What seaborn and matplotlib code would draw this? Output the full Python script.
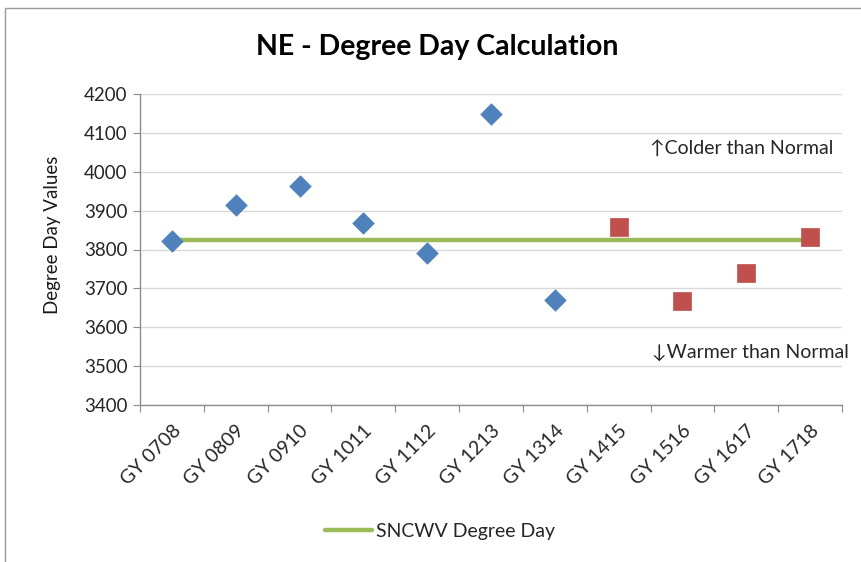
# NE degree day chart: actual vs forecast seasons against the normal line
import numpy as np
import pandas as pd
import matplotlib
matplotlib.use("Agg")
import matplotlib.pyplot as plt
import seaborn as sns

# data
seasons = ["GY 0708", "GY 0809", "GY 0910", "GY 1011", "GY 1112", "GY 1213",
           "GY 1314", "GY 1415", "GY 1516", "GY 1617", "GY 1718"]
degree_days = [3822, 3915, 3964, 3867, 3792, 4148, 3669, 3859, 3668, 3739, 3833]
series = ["Actual"] * 7 + ["Forecast"] * 4
normal_dd = [3824] * 11
y_ticks = [3400, 3500, 3600, 3700, 3800, 3900, 4000, 4100, 4200]

df = pd.DataFrame({"season": seasons, "dd": degree_days, "series": series,
                   "normal": normal_dd})
df["pos"] = np.arange(len(df))

sns.set_style("white")
plt.rcParams["font.family"] = ["Lato", "DejaVu Sans"]

fig = plt.figure(figsize=(8.62, 5.62), dpi=100)
ax = fig.add_axes([140 / 862, 1 - 405 / 562, (842 - 140) / 862, (405 - 94) / 562])

# outer chart border (right and bottom edges fall outside the picture)
fig.patches.append(plt.Rectangle((5 / 862, -0.1), 1.2, 1.1 - 8 / 562, transform=fig.transFigure,
                                 fill=False, edgecolor="#9a9a9a", linewidth=1.0))

sns.lineplot(data=df, x="pos", y="normal", color="#9BBB59", linewidth=3.2,
             label="SNCWV Degree Day", ax=ax, zorder=2)
act = df[df["series"] == "Actual"]
fc = df[df["series"] == "Forecast"]
sns.scatterplot(data=act, x="pos", y="dd", marker="D", s=120, color="#4F81BD",
                edgecolor="#4F81BD", linewidth=0.5, ax=ax, zorder=3, legend=False)
sns.scatterplot(data=fc, x="pos", y="dd", marker="s", s=185, color="#C0504D",
                edgecolor="#C0504D", linewidth=0.5, ax=ax, zorder=3, legend=False)

ax.set_xlim(-0.5, len(seasons) - 0.5)
ax.set_ylim(3400, 4200)
ax.set_yticks(y_ticks)
ax.yaxis.grid(True, color="#d9d9d9", linewidth=1.0)
ax.set_axisbelow(True)

# tick marks on category boundaries, labels at centres
ax.set_xticks(np.arange(-0.5, len(seasons)), minor=False)
ax.set_xticklabels([])
ax.set_xticks(df["pos"], minor=True)
ax.set_xticklabels(seasons, minor=True, rotation=45, ha="right",
                   rotation_mode="anchor", fontsize=14, color="#262626")
ax.tick_params(axis="x", which="minor", length=0, pad=12)
ax.tick_params(axis="x", which="major", length=5, color="#8c8c8c", direction="out", bottom=True)
ax.tick_params(axis="y", length=5, color="#8c8c8c", direction="out", left=True,
               labelsize=13.5, labelcolor="#262626", pad=4)

for side in ["top", "right"]:
    ax.spines[side].set_visible(False)
for side in ["left", "bottom"]:
    ax.spines[side].set_color("#8c8c8c")
    ax.spines[side].set_linewidth(1.0)

ax.set_xlabel("")
ax.set_ylabel("Degree Day Values", fontsize=13.5, color="#1a1a1a")
ax.yaxis.set_label_coords((61 - 140) / 702, (405 - 235) / 311)

fig.text(437 / 862, 1 - 47 / 562, "NE - Degree Day Calculation", ha="center", va="center",
         fontsize=20.5, fontweight="bold", color="#000000")

ax.text(10.36, 4061, "\u2191Colder than Normal", ha="right", va="center",
        fontsize=14, color="#262626", family=["Lato", "DejaVu Sans"])
ax.text(10.6, 3536, "\u2193Warmer than Normal", ha="right", va="center",
        fontsize=14, color="#262626", family=["Lato", "DejaVu Sans"])

leg = ax.legend(loc="center", bbox_to_anchor=(440 / 862, 1 - 531 / 562),
                bbox_transform=fig.transFigure, frameon=False, fontsize=14,
                handlelength=2.4, handletextpad=0.2)

fig.savefig("out.png", dpi=100)
